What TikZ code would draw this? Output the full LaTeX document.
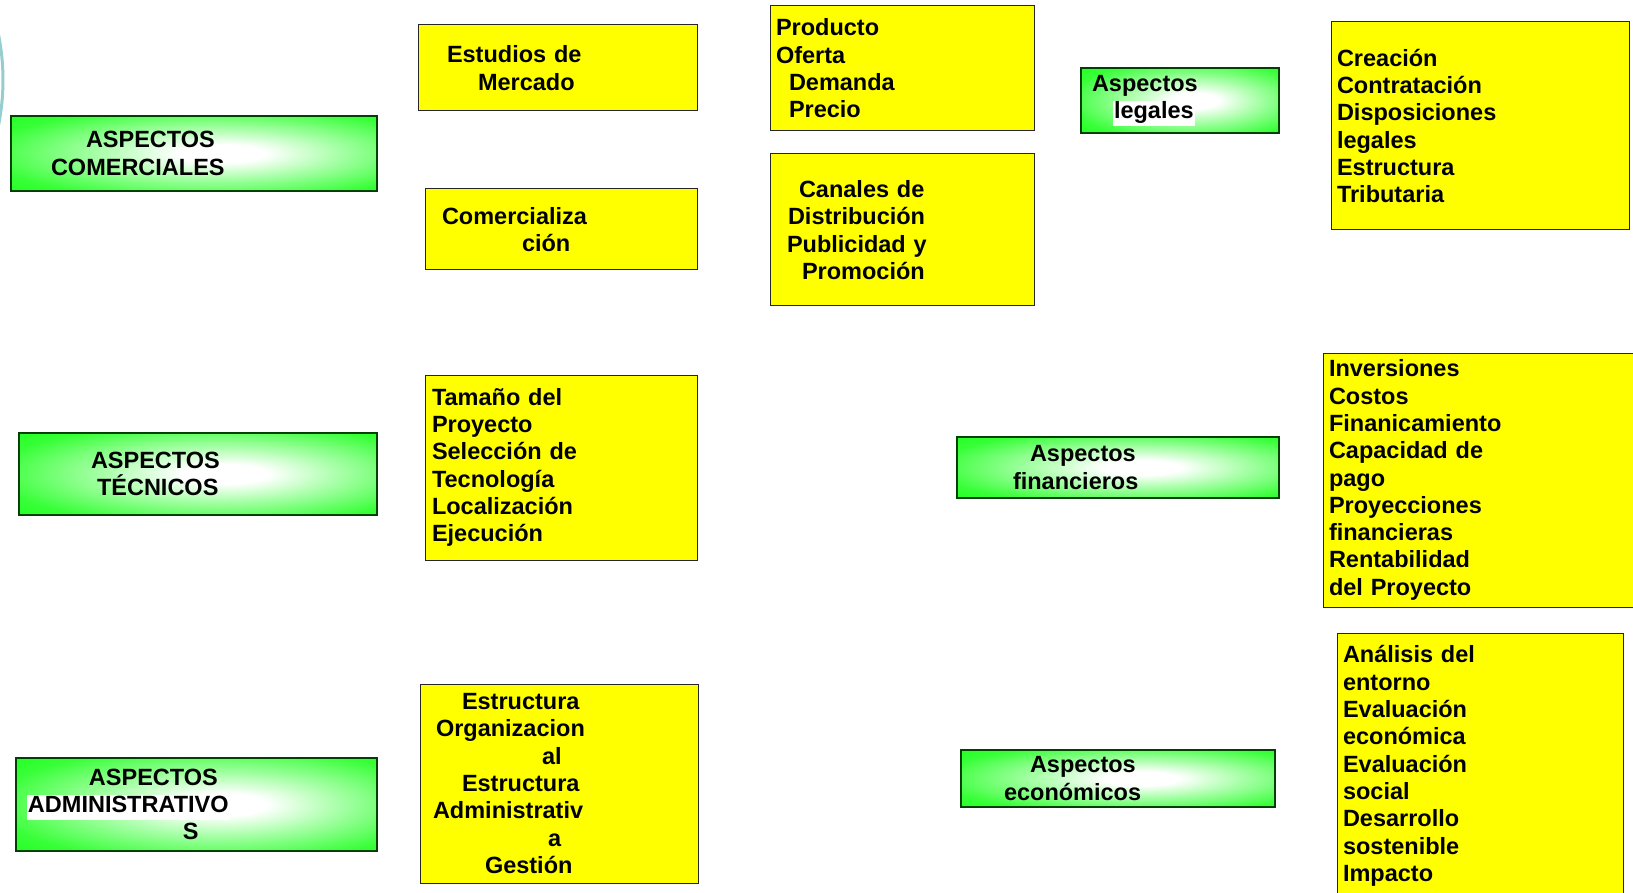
\documentclass[tikz,border=0pt]{standalone}
\usepackage{fontspec}
\setmainfont{Liberation Sans}
\usepackage{tikz}

\definecolor{aspectgreen}{RGB}{28,255,28}
\definecolor{detailyellow}{RGB}{255,255,0}
\definecolor{arcteal}{RGB}{150,205,208}
\pgfdeclareradialshading{glow}{\pgfpoint{4bp}{0bp}}{color(0bp)=(white); color(6bp)=(white); color(17bp)=(aspectgreen!40!white); color(31bp)=(aspectgreen!88!white); color(40bp)=(aspectgreen); color(80bp)=(aspectgreen)}

\newcommand{\whitebg}[1]{{\setlength{\fboxsep}{1pt}\colorbox{white}{\rule[-6pt]{0pt}{21pt}#1}}}

\begin{document}
\begin{tikzpicture}[x=1pt, y=-1pt, every node/.style={font=\fontsize{23.5}{27.3}\selectfont\bfseries}]
    % Styles
    \tikzstyle{aspect} = [rectangle, inner sep=0pt, outer sep=0pt, align=left, shading=glow, draw=black!75!green, line width=1.3pt]
    \tikzstyle{detail} = [rectangle, inner sep=0pt, outer sep=0pt, align=left, fill=detailyellow, draw=black!85, line width=1pt]

    \useasboundingbox (0,0) rectangle (1633,893);
    \clip (0,0) rectangle (1633,893);

    % Slide decoration
    \draw [arcteal, line width=3pt] (-225,80) circle (228);

    % Aspects
    \node (comerciales) [aspect, minimum width=366, minimum height=75, text width=286] at (194,153.5)
        {\hspace*{35pt}ASPECTOS\\COMERCIALES};
    \node (tecnicos) [aspect, minimum width=358, minimum height=82, text width=214] at (198,474)
        {ASPECTOS\\\hspace*{6pt}TÉCNICOS};
    \node (administrativos) [aspect, minimum width=361, minimum height=93, text width=339] at (196.5,804.5)
        {\hspace*{62pt}ASPECTOS\\\whitebg{ADMINISTRATIVO}\\\hspace*{156pt}S};
    \node (legales) [aspect, minimum width=198, minimum height=65, text width=176] at (1180,100.5)
        {Aspectos\\\hspace*{21pt}\whitebg{legales}};
    \node (financieros) [aspect, minimum width=322, minimum height=61, text width=210] at (1118,467.5)
        {\hspace*{17pt}Aspectos\\financieros};
    \node (economicos) [aspect, minimum width=314, minimum height=57, text width=228] at (1118,778.5)
        {\hspace*{26pt}Aspectos\\económicos};

    % Details
    \node (mercado) [detail, minimum width=279, minimum height=86, text width=221] at (557.5,68)
        {Estudios de\\\hspace*{31pt}Mercado};
    \node (comercializacion) [detail, minimum width=272, minimum height=81, text width=238] at (561,229.5)
        {Comercializa\\\hspace*{80pt}ción};
    \node (tamano) [detail, minimum width=272, minimum height=185, text width=258] at (561,467.5)
        {Tamaño del\\Proyecto\\Selección de\\Tecnología\\Localización\\Ejecución};
    \node (estructura) [detail, minimum width=278, minimum height=199, text width=252] at (559,783.5)
        {\hspace*{29pt}Estructura\\\hspace*{3pt}Organizacion\\\hspace*{109pt}al\\\hspace*{29pt}Estructura\\Administrativ\\\hspace*{115pt}a\\\hspace*{52pt}Gestión};
    \node (producto) [detail, minimum width=264, minimum height=125, text width=252] at (902,68.5)
        {Producto\\Oferta\\\hspace*{13pt}Demanda\\\hspace*{13pt}Precio};
    \node (canales) [detail, minimum width=264, minimum height=152, text width=230] at (902,230)
        {\hspace*{12pt}Canales de\\\hspace*{1pt}Distribución\\Publicidad y\\\hspace*{15pt}Promoción};
    \node (creacion) [detail, minimum width=298, minimum height=208, text width=286] at (1480,126)
        {Creación\\Contratación\\Disposiciones\\legales\\Estructura\\Tributaria};
    \node (inversiones) [detail, minimum width=317, minimum height=254, text width=305] at (1481.5,480)
        {Inversiones\\Costos\\Finanicamiento\\Capacidad de\\pago\\Proyecciones\\financieras\\Rentabilidad\\del Proyecto};
    \node (analisis) [detail, minimum width=286, minimum height=266, text width=274] at (1480,766)
        {Análisis del\\entorno\\Evaluación\\económica\\Evaluación\\social\\Desarrollo\\sostenible\\Impacto};
\end{tikzpicture}
\end{document}
